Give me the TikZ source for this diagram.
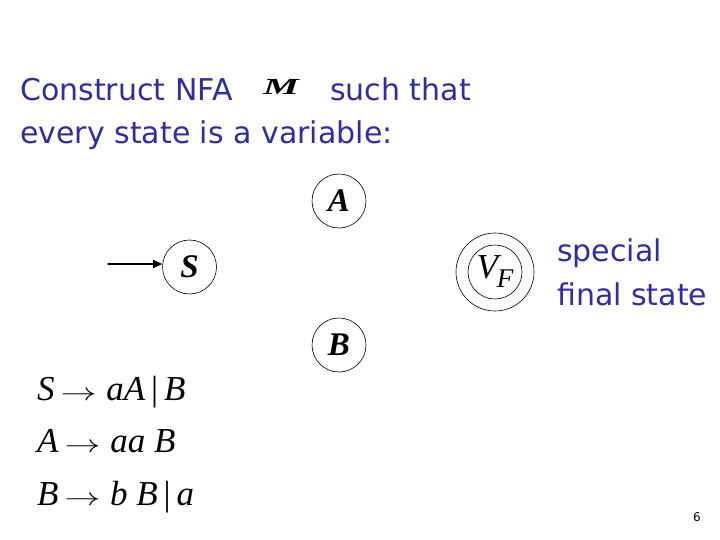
\documentclass[tikz,border=0pt]{standalone}
\usepackage{fontspec}
\setmainfont{DejaVu Sans}
\newfontfamily\tnr{Liberation Serif}
\usetikzlibrary{arrows.meta}
\definecolor{slideblue}{RGB}{45,45,165}
\newcommand{\yields}{\,\scalebox{1.45}[1]{$\rightarrow$}\;}
\begin{document}
\begin{tikzpicture}[x=1pt, y=-1pt, line cap=round, line join=round,
    state/.style={circle, draw, line width=0.6pt, minimum size=54pt, inner sep=0pt,
      font=\tnr\bfseries\itshape\fontsize{33}{33}\selectfont},
    ring/.style={line width=0.6pt},
    words/.style={anchor=base west, inner sep=0pt, text=slideblue,
      font=\fontsize{30}{30}\selectfont},
    rule/.style={anchor=base west, inner sep=0pt, font=\tnr\fontsize{35}{35}\selectfont},
    start/.style={line width=1.2pt, -{Triangle[length=9pt, width=8pt]}}]
  \useasboundingbox (0,0) rectangle (720,540);
  \node[words] (t1) at (20,101) {Construct NFA};
  \node[anchor=base west, inner sep=0pt, font=\tnr\bfseries\itshape\fontsize{23}{23}\selectfont]
    (m) at (263,95) {\scalebox{1.75}[1]{M}};
  \node[words] (t2) at (330,101) {such that};
  \node[words] (t3) at (20,144) {every state is a variable:};
  \node[state] (a) at (339,201) {A};
  \node[state] (s) at (189.5,267) {S};
  \node[state] (b) at (339,345) {B};
  \node[state] (vf) at (495,272) {\mdseries\fontsize{35}{35}\selectfont
    V\kern-1pt\raisebox{-9pt}{\fontsize{27}{27}\selectfont F}};
  \draw[ring] (vf) circle[radius=39];
  \coordinate (init) at (108,264);
  \draw[start] (init) -- (init -| s.west);
  \node[words] (f1) at (557,261) {special};
  \node[words] (f2) at (557,305) {final state};
  \node[rule] (r1) at (37,400) {\textit{S}\yields\textit{aA}\,|\,\textit{B}};
  \node[rule] (r2) at (37,452) {\textit{A}\yields\textit{aa B}};
  \node[rule] (r3) at (37,505) {\textit{B}\yields\textit{b B}\,|\,\textit{a}};
  \node[anchor=base, inner sep=0pt, font=\fontsize{12}{12}\selectfont] (pg) at (697,521) {6};
\end{tikzpicture}
\end{document}
